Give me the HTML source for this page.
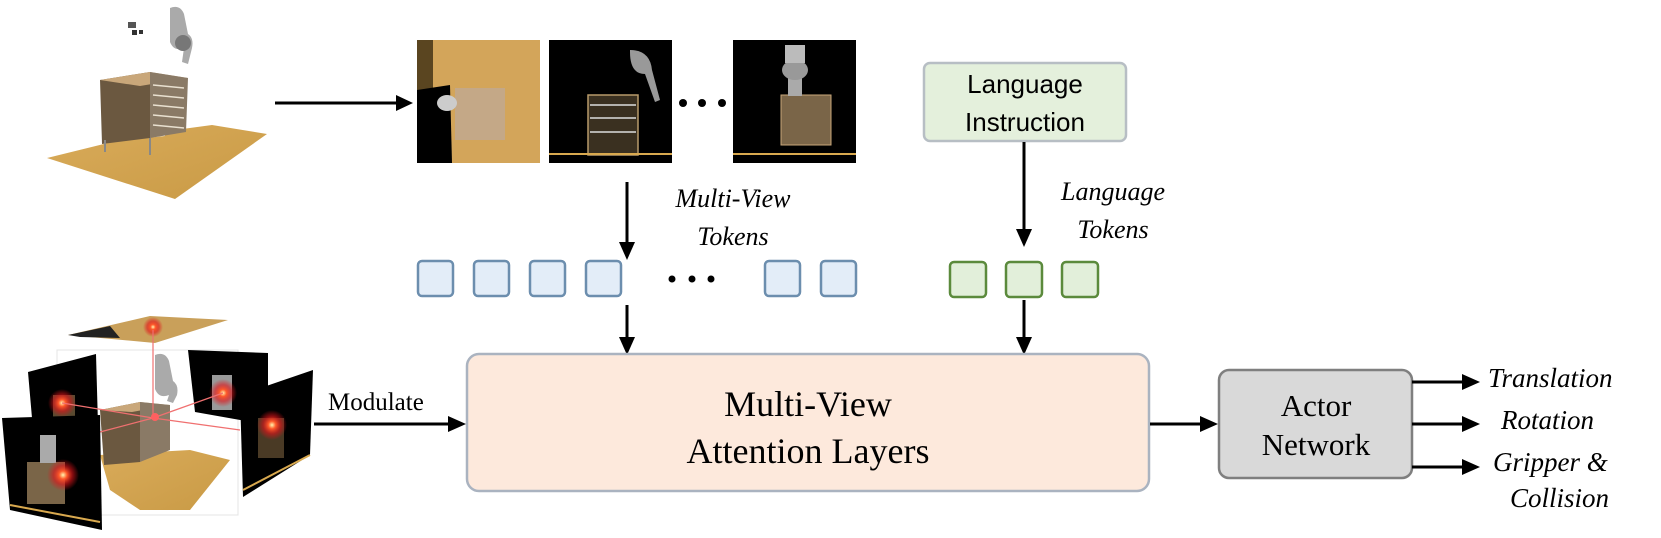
<!DOCTYPE html>
<html><head><meta charset="utf-8"><style>
html,body{margin:0;padding:0;background:#fff;}
body{width:1661px;height:538px;overflow:hidden;position:relative;}
svg{position:absolute;left:0;top:0;}
</style></head><body>
<svg width="1661" height="538" viewBox="0 0 1661 538" xmlns="http://www.w3.org/2000/svg">
<defs>
<radialGradient id="glow"><stop offset="0" stop-color="#fff6b0"/><stop offset="0.25" stop-color="#ff5a2a"/><stop offset="0.6" stop-color="#e0141a" stop-opacity="0.6"/><stop offset="1" stop-color="#e0141a" stop-opacity="0"/></radialGradient>
<linearGradient id="wood" x1="0" y1="0" x2="1" y2="1"><stop offset="0" stop-color="#d9ab5a"/><stop offset="1" stop-color="#c99a45"/></linearGradient>
</defs>

<!-- top-left scene -->
<polygon points="47,158 120,140 175,130 212,125 267,134 175,199" fill="url(#wood)"/>
<polygon points="125,128 160,122 165,136 128,140" fill="#fff"/>
<polygon points="100,80 150,72 150,138 102,144" fill="#6b5840"/>
<polygon points="100,80 150,72 188,78 140,86" fill="#c9a77a"/>
<polygon points="150,72 188,78 186,132 150,138" fill="#8a7a66"/>
<g stroke="#e8e0d0" stroke-width="1.5"><line x1="153" y1="85" x2="184" y2="88"/><line x1="153" y1="95" x2="184" y2="98"/><line x1="153" y1="105" x2="184" y2="108"/><line x1="153" y1="115" x2="184" y2="118"/><line x1="153" y1="125" x2="184" y2="128"/></g>
<line x1="105" y1="140" x2="105" y2="152" stroke="#888" stroke-width="2"/>
<line x1="150" y1="138" x2="150" y2="155" stroke="#888" stroke-width="2"/>
<path d="M170,8 q10,-4 14,6 l4,20 q6,4 4,14 l-4,16 l-6,-2 l2,-14 q-10,4 -14,-6 z" fill="#aaa"/>
<circle cx="183" cy="43" r="8" fill="#777"/>
<rect x="128" y="22" width="8" height="6" fill="#555"/><rect x="132" y="30" width="5" height="5" fill="#333"/><rect x="139" y="30" width="4" height="4" fill="#333"/>

<!-- arrow top -->
<line x1="275" y1="103" x2="400" y2="103" stroke="#000" stroke-width="3"/>
<polygon points="413,103 396,95 396,111" fill="#000"/>

<!-- view images -->
<rect x="417" y="40" width="123" height="123" fill="#d3a55a"/>
<rect x="417" y="40" width="16" height="123" fill="#5a4520"/>
<polygon points="417,90 450,85 452,163 417,163" fill="#000"/>
<rect x="455" y="88" width="50" height="52" fill="#c4a887"/>
<ellipse cx="447" cy="103" rx="10" ry="8" fill="#ccc"/>
<rect x="549" y="40" width="123" height="123" fill="#000"/>
<rect x="588" y="95" width="50" height="60" fill="#3a3020" stroke="#b89a6a" stroke-width="1.5"/>
<g stroke="#ddd" stroke-width="1.5"><line x1="590" y1="105" x2="636" y2="105"/><line x1="590" y1="118" x2="636" y2="118"/><line x1="590" y1="132" x2="636" y2="132"/></g>
<path d="M630,50 q20,0 22,20 l8,30 l-5,2 l-10,-28 q-15,0 -15,-22z" fill="#999"/>
<line x1="549" y1="154" x2="672" y2="154" stroke="#d9a94f" stroke-width="2"/>
<rect x="733" y="40" width="123" height="123" fill="#000"/>
<rect x="781" y="95" width="50" height="50" fill="#7a6548" stroke="#c9a77a" stroke-width="1"/>
<rect x="788" y="70" width="14" height="26" fill="#aaa"/>
<ellipse cx="795" cy="70" rx="13" ry="10" fill="#999"/>
<rect x="785" y="45" width="20" height="18" fill="#bbb"/>
<line x1="733" y1="154" x2="856" y2="154" stroke="#d9a94f" stroke-width="2"/>
<circle cx="683" cy="103" r="4" fill="#000"/><circle cx="702" cy="103" r="4" fill="#000"/><circle cx="722" cy="103" r="4" fill="#000"/>

<!-- Language instruction box -->
<rect x="924" y="63" width="202" height="78" rx="6" fill="#e4f0dc" stroke="#b7bec4" stroke-width="2.5"/>
<text x="1025" y="93" font-family="'Liberation Sans',sans-serif" font-size="26" text-anchor="middle">Language</text>
<text x="1025" y="131" font-family="'Liberation Sans',sans-serif" font-size="26" text-anchor="middle">Instruction</text>

<!-- arrows down -->
<line x1="627" y1="182" x2="627" y2="244" stroke="#000" stroke-width="3"/>
<polygon points="627,260 619,242 635,242" fill="#000"/>
<line x1="627" y1="305" x2="627" y2="340" stroke="#000" stroke-width="3"/>
<polygon points="627,355 619,337 635,337" fill="#000"/>
<line x1="1024" y1="142" x2="1024" y2="230" stroke="#000" stroke-width="3"/>
<polygon points="1024,247 1016,229 1032,229" fill="#000"/>
<line x1="1024" y1="300" x2="1024" y2="340" stroke="#000" stroke-width="3"/>
<polygon points="1024,355 1016,337 1032,337" fill="#000"/>

<g font-family="'Liberation Serif',serif" font-style="italic" font-size="26">
<text x="733" y="207" text-anchor="middle">Multi-View</text>
<text x="733" y="245" text-anchor="middle">Tokens</text>
<text x="1113" y="200" text-anchor="middle">Language</text>
<text x="1113" y="238" text-anchor="middle">Tokens</text>
</g>

<!-- blue tokens -->
<g fill="#e3edf8" stroke="#6c8eae" stroke-width="2.5">
<rect x="418" y="261" width="35" height="35" rx="4"/>
<rect x="474" y="261" width="35" height="35" rx="4"/>
<rect x="530" y="261" width="35" height="35" rx="4"/>
<rect x="586" y="261" width="35" height="35" rx="4"/>
<rect x="765" y="261" width="35" height="35" rx="4"/>
<rect x="821" y="261" width="35" height="35" rx="4"/>
</g>
<circle cx="672" cy="279" r="3.5" fill="#000"/><circle cx="692" cy="279" r="3.5" fill="#000"/><circle cx="711" cy="279" r="3.5" fill="#000"/>
<g fill="#e2efda" stroke="#5b8a3c" stroke-width="2.5">
<rect x="950" y="262" width="36" height="35" rx="4"/>
<rect x="1006" y="262" width="36" height="35" rx="4"/>
<rect x="1062" y="262" width="36" height="35" rx="4"/>
</g>

<!-- attention box -->
<rect x="467" y="354" width="682" height="137" rx="12" fill="#fde9dc" stroke="#aab3c0" stroke-width="2.5"/>
<text x="808" y="416" font-family="'Liberation Serif',serif" font-size="36" text-anchor="middle">Multi-View</text>
<text x="808" y="463" font-family="'Liberation Serif',serif" font-size="36" text-anchor="middle">Attention Layers</text>

<!-- modulate -->
<text x="328" y="410" font-family="'Liberation Serif',serif" font-size="25">Modulate</text>
<line x1="314" y1="424" x2="450" y2="424" stroke="#000" stroke-width="3"/>
<polygon points="466,424 448,416 448,432" fill="#000"/>

<!-- to actor -->
<line x1="1150" y1="424" x2="1202" y2="424" stroke="#000" stroke-width="3"/>
<polygon points="1218,424 1200,416 1200,432" fill="#000"/>
<rect x="1219" y="370" width="193" height="108" rx="10" fill="#d9d9d9" stroke="#7f7f7f" stroke-width="2.5"/>
<text x="1316" y="416" font-family="'Liberation Serif',serif" font-size="31" text-anchor="middle">Actor</text>
<text x="1316" y="455" font-family="'Liberation Serif',serif" font-size="31" text-anchor="middle">Network</text>

<g stroke="#000" stroke-width="3">
<line x1="1412" y1="382" x2="1464" y2="382"/><line x1="1412" y1="424" x2="1464" y2="424"/><line x1="1412" y1="467" x2="1464" y2="467"/>
</g>
<polygon points="1480,382 1462,374 1462,390" fill="#000"/>
<polygon points="1480,424 1462,416 1462,432" fill="#000"/>
<polygon points="1480,467 1462,459 1462,475" fill="#000"/>
<g font-family="'Liberation Serif',serif" font-style="italic" font-size="27">
<text x="1488" y="387">Translation</text>
<text x="1501" y="429">Rotation</text>
<text x="1493" y="471">Gripper &amp;</text>
<text x="1510" y="507">Collision</text>
</g>

<!-- bottom-left cube scene -->
<rect x="57" y="350" width="181" height="165" fill="#fff" stroke="#e4e4e4" stroke-width="1"/>
<polygon points="68,335 150,316 228,320 155,343" fill="#c9a05a"/>
<polygon points="68,335 110,326 120,338 80,337" fill="#222"/>
<circle cx="153" cy="327" r="10" fill="url(#glow)"/>
<polygon points="100,455 190,450 230,460 190,510 140,510 110,490" fill="url(#wood)"/>
<polygon points="100,410 140,402 140,462 104,465" fill="#6b5840"/>
<polygon points="100,410 140,402 170,405 132,412" fill="#c9a77a"/>
<polygon points="140,402 170,405 170,450 140,462" fill="#8a7a66"/>
<path d="M155,355 q10,-4 14,6 l4,20 q6,4 4,14 l-4,8 l-6,-2 l2,-6 q-10,4 -14,-6 z" fill="#aaa"/>
<polygon points="28,372 96,354 98,425 32,418" fill="#000"/>
<rect x="53" y="395" width="22" height="30" fill="#5a4a30"/>
<circle cx="62" cy="403" r="14" fill="url(#glow)"/>
<polygon points="188,350 268,353 268,425 195,412" fill="#000"/>
<rect x="212" y="375" width="20" height="35" fill="#999"/>
<circle cx="223" cy="393" r="14" fill="url(#glow)"/>
<g stroke="#f07070" stroke-width="1.2" fill="none">
<line x1="153" y1="330" x2="153" y2="418"/><line x1="62" y1="403" x2="153" y2="418"/><line x1="223" y1="393" x2="153" y2="418"/><line x1="153" y1="418" x2="240" y2="430"/><line x1="153" y1="418" x2="100" y2="432"/>
</g>
<circle cx="155" cy="417" r="4" fill="#ff6060"/>
<polygon points="2,418 100,415 102,530 10,510" fill="#000"/>
<rect x="27" y="462" width="38" height="42" fill="#7a6548"/>
<rect x="40" y="435" width="16" height="28" fill="#aaa"/>
<circle cx="63" cy="475" r="16" fill="url(#glow)"/>
<line x1="10" y1="505" x2="100" y2="522" stroke="#d9a94f" stroke-width="2"/>
<polygon points="240,395 313,370 310,455 243,497" fill="#000"/>
<rect x="258" y="418" width="26" height="40" fill="#4a3a25"/>
<circle cx="272" cy="425" r="15" fill="url(#glow)"/>
<line x1="243" y1="490" x2="310" y2="455" stroke="#d9a94f" stroke-width="2"/>
</svg>
</body></html>
